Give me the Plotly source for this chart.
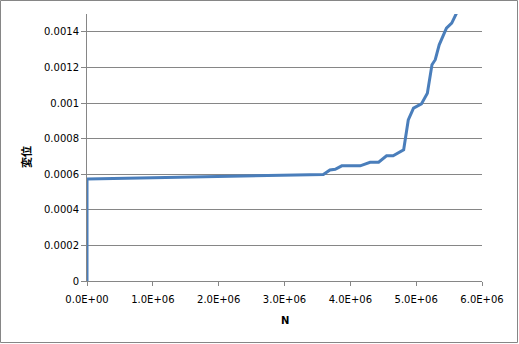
import plotly.graph_objects as go

# Data
N = [0, 0, 1.0e6, 2.0e6, 3.0e6, 3.59e6, 3.69e6, 3.77e6, 3.87e6, 4.15e6, 4.30e6, 4.43e6,
     4.55e6, 4.65e6, 4.81e6, 4.83e6, 4.88e6, 4.96e6, 5.08e6, 5.17e6, 5.24e6, 5.29e6,
     5.35e6, 5.46e6, 5.54e6, 5.62e6]
disp = [0, 0.000573, 0.000580, 0.000587, 0.000594, 0.000598, 0.000624, 0.000628, 0.000647,
        0.000647, 0.000667, 0.000667, 0.000703, 0.000703, 0.000737, 0.000793, 0.000905,
        0.000971, 0.000995, 0.001055, 0.001215, 0.001243, 0.001327, 0.001421, 0.001449,
        0.001510]

x_ticks = [0, 1e6, 2e6, 3e6, 4e6, 5e6, 6e6]
x_labels = ["0.0E+00", "1.0E+06", "2.0E+06", "3.0E+06", "4.0E+06", "5.0E+06", "6.0E+06"]
y_ticks = [0, 0.0002, 0.0004, 0.0006, 0.0008, 0.001, 0.0012, 0.0014]
y_labels = ["0", "0.0002", "0.0004", "0.0006", "0.0008", "0.001", "0.0012", "0.0014"]

W, H = 519, 344
L, R, T, B = 87, 37, 14, 63
pw, ph = W - L - R, H - T - B

grid = "#868686"
fnt = dict(family="DejaVu Sans", size=10, color="#000000")

fig = go.Figure()
fig.add_trace(go.Scatter(x=N, y=disp, mode="lines",
                         line=dict(color="#4A7EBB", width=3), showlegend=False,
                         cliponaxis=True))

fig.update_layout(
    width=W, height=H,
    margin=dict(l=L, r=R, t=T, b=B),
    paper_bgcolor="white", plot_bgcolor="white",
    font=fnt,
    xaxis=dict(range=[0, 6e6], tickvals=x_ticks, ticktext=x_labels,
               showgrid=False, zeroline=False, showline=True, linecolor=grid, linewidth=1,
               ticks="outside", ticklen=4, tickcolor=grid, tickfont=fnt,
               ticklabelstandoff=5),
    yaxis=dict(range=[0, 0.0015], tickvals=y_ticks, ticktext=y_labels,
               showgrid=True, gridcolor=grid, gridwidth=1, zeroline=False,
               showline=True, linecolor=grid, linewidth=1,
               ticks="outside", ticklen=5, tickcolor=grid, tickfont=fnt),
    annotations=[
        dict(text="<b>N</b>", xref="paper", yref="paper", x=0.5, y=-(320 - (T + ph)) / ph,
             showarrow=False, xanchor="center", yanchor="middle",
             font=dict(family="DejaVu Sans", size=10, color="#000")),
        dict(text="<b>変位</b>", xref="paper", yref="paper", x=-(L - 26) / pw,
             y=(T + ph - 157) / ph, showarrow=False, textangle=-90,
             xanchor="center", yanchor="middle",
             font=dict(family="Noto Sans CJK JP", size=11, color="#000")),
    ],
    shapes=[
        dict(type="rect", xref="paper", yref="paper",
             x0=-(L - 0.5) / pw, x1=1 + (R - 1.5) / pw,
             y0=-(B - 1.5) / ph, y1=1 + (T - 0.5) / ph,
             line=dict(color="#868686", width=1), layer="below"),
    ],
)

fig.write_html("out.html")
